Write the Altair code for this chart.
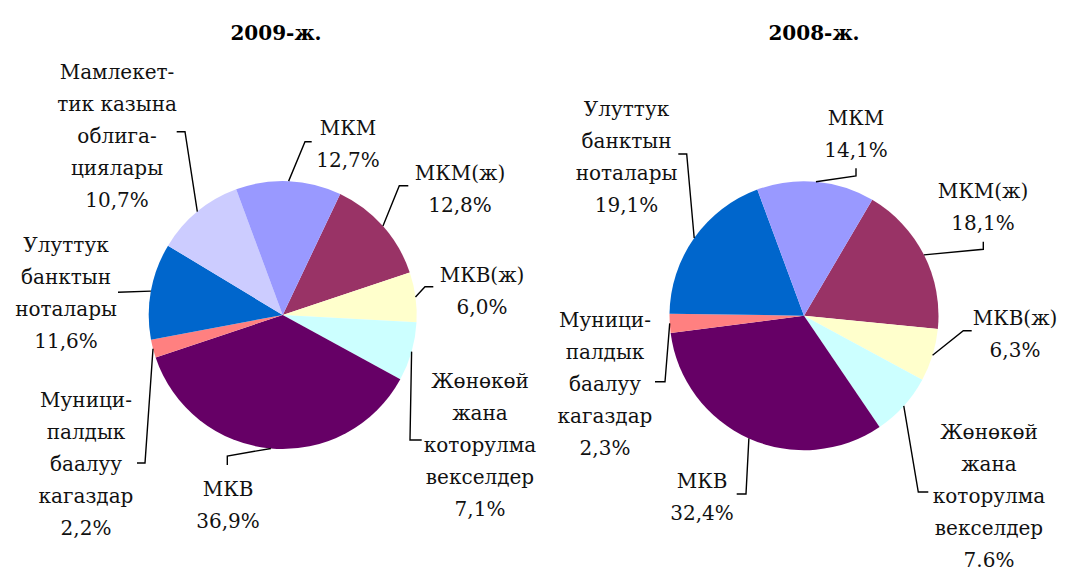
import math
import altair as alt
import pandas as pd

# ---------------- data ----------------
cats_2009 = ["МКМ(ж)", "МКВ(ж)", "Жөнөкөй жана которулма векселдер", "МКВ",
             "Муниципалдык баалуу кагаздар", "Улуттук банктын ноталары",
             "Мамлекеттик казына облигациялары", "МКМ"]
vals_2009 = [12.8, 6.0, 7.1, 36.9, 2.2, 11.6, 10.7, 12.7]
text_2009 = ["МКМ(ж)\n12,8%", "МКВ(ж)\n6,0%",
             "Жөнөкөй\nжана\nкоторулма\nвекселдер\n7,1%", "МКВ\n36,9%",
             "Муници-\nпалдык\nбаалуу\nкагаздар\n2,2%",
             "Улуттук\nбанктын\nноталары\n11,6%",
             "Мамлекет-\nтик казына\nоблига-\nциялары\n10,7%", "МКМ\n12,7%"]

cats_2008 = ["МКМ(ж)", "МКВ(ж)", "Жөнөкөй жана которулма векселдер", "МКВ",
             "Муниципалдык баалуу кагаздар", "Улуттук банктын ноталары", "МКМ"]
vals_2008 = [18.1, 6.3, 7.6, 32.4, 2.3, 19.1, 14.1]
text_2008 = ["МКМ(ж)\n18,1%", "МКВ(ж)\n6,3%",
             "Жөнөкөй\nжана\nкоторулма\nвекселдер\n7.6%", "МКВ\n32,4%",
             "Муници-\nпалдык\nбаалуу\nкагаздар\n2,3%",
             "Улуттук\nбанктын\nноталары\n19,1%", "МКМ\n14,1%"]

titles = ["2009-ж.", "2008-ж."]

all_cats = ["МКМ", "МКМ(ж)", "МКВ(ж)", "Жөнөкөй жана которулма векселдер", "МКВ",
            "Муниципалдык баалуу кагаздар", "Улуттук банктын ноталары",
            "Мамлекеттик казына облигациялары"]
colors = ["#9999FF", "#993366", "#FFFFCC", "#CCFFFF", "#660066",
          "#FF8080", "#0066CC", "#CCCCFF"]

# ---------------- layout (page pixels) ----------------
M = 8
W, H = 1049, 559
FONT = "DejaVu Serif"

pie_layout = {
    "2009": dict(cx=282.7, cy=315.0, r=134, start=25.4),
    "2008": dict(cx=804.0, cy=315.7, r=134.5, start=30.5),
}
# label: center x, first baseline y, leader start (A), elbow (B)
label_layout = {
    "2009": [
        (460, 180, (408.3, 185.7), (399.3, 185.7)),
        (482, 282, (433.3, 286.7), (425.0, 286.7)),
        (480, 388, (421.7, 440.0), (410.0, 440.0)),
        (228, 496, (227.3, 465.0), (227.3, 456.0)),
        (86, 407, (137.0, 463.0), (145.0, 463.0)),
        (66, 252, (118.0, 292.3), (118.0, 292.3)),
        (117, 79, (176.7, 131.7), (185.0, 131.7)),
        (348, 135, (311.7, 141.7), (305.0, 141.7)),
    ],
    "2008": [
        (983, 198, (983.3, 241.7), (983.3, 249.3)),
        (1015, 325, (971.7, 330.7), (963.3, 330.7)),
        (989, 439, (928.3, 492.0), (918.3, 492.0)),
        (702, 488, (736.7, 494.0), (746.0, 494.0)),
        (605, 327, (655.0, 381.7), (665.0, 381.7)),
        (626.5, 116, (678.3, 154.0), (686.7, 154.0)),
        (856, 125, (856.0, 168.3), (856.0, 176.0)),
    ],
}
title_layout = [(276, 40), (814, 40)]

xs = alt.Scale(domain=[0, W], range=[0, W], nice=False, zero=False)
ys = alt.Scale(domain=[0, H], range=[0, H], nice=False, zero=False)
color_scale = alt.Scale(domain=all_cats, range=colors)

layers = []
text_rows, line_rows = [], []
for year, cats, vals, texts in [("2009", cats_2009, vals_2009, text_2009),
                                ("2008", cats_2008, vals_2008, text_2008)]:
    p = pie_layout[year]
    cx, cy, r = p["cx"] - M, p["cy"] - M, p["r"]
    a0 = math.radians(p["start"])
    total = sum(vals)
    df = pd.DataFrame({"cat": cats, "value": vals, "idx": list(range(len(cats)))})
    layers.append(
        alt.Chart(df).mark_arc(radius=r).encode(
            theta=alt.Theta("value:Q", stack=True,
                            scale=alt.Scale(domain=[0, total], range=[a0, a0 + 2 * math.pi])),
            order=alt.Order("idx:Q"),
            color=alt.Color("cat:N", scale=color_scale, legend=None),
            x=alt.value(cx), y=alt.value(cy),
        )
    )
    cum = 0.0
    for i, (c, v, t) in enumerate(zip(cats, vals, texts)):
        mid = a0 + 2 * math.pi * (cum + v / 2) / total
        cum += v
        lx, ly, A, B = label_layout[year][i]
        text_rows.append({"text": t, "x": lx - M, "y": ly - M})
        ex, ey = cx + r * math.sin(mid), cy - r * math.cos(mid)
        lid = f"{year}-{i}"
        for k, (px, py) in enumerate([(A[0] - M, A[1] - M), (B[0] - M, B[1] - M), (ex, ey)]):
            line_rows.append({"id": lid, "ord": k, "x": px, "y": py})

lines = alt.Chart(pd.DataFrame(line_rows)).mark_line(color="black", strokeWidth=1.4).encode(
    x=alt.X("x:Q", scale=xs, axis=None),
    y=alt.Y("y:Q", scale=ys, axis=None),
    detail="id:N",
    order="ord:Q",
)
labels = alt.Chart(pd.DataFrame(text_rows)).mark_text(
    font=FONT, fontSize=20, lineBreak="\n", lineHeight=32,
    align="center", baseline="alphabetic", color="#111111",
).encode(
    x=alt.X("x:Q", scale=xs, axis=None),
    y=alt.Y("y:Q", scale=ys, axis=None),
    text="text:N",
)
tdf = pd.DataFrame({"text": titles,
                    "x": [t[0] - M for t in title_layout],
                    "y": [t[1] - M for t in title_layout]})
title_marks = alt.Chart(tdf).mark_text(
    font=FONT, fontSize=20, fontWeight="bold", align="center",
    baseline="alphabetic", color="black",
).encode(
    x=alt.X("x:Q", scale=xs, axis=None),
    y=alt.Y("y:Q", scale=ys, axis=None),
    text="text:N",
)

chart = alt.layer(*layers, lines, labels, title_marks).resolve_scale(
    theta="independent"
).properties(
    width=W, height=H, padding=0, autosize="none", background="white"
).configure_view(stroke=None)

chart.save("out.html", embed_options={"renderer": "svg", "actions": False})
